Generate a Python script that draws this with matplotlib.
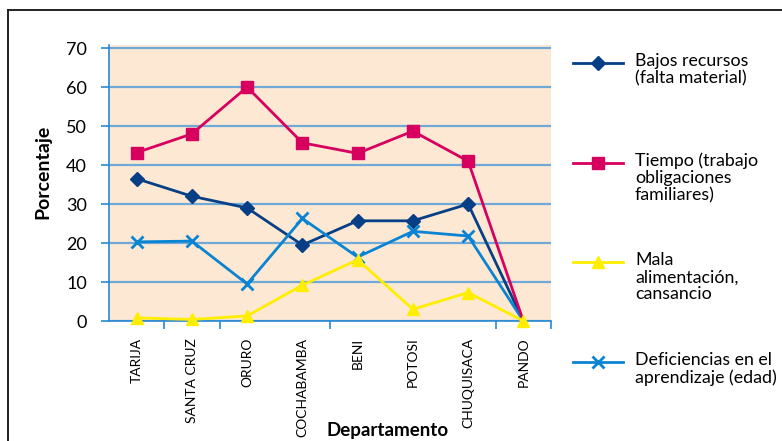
import matplotlib.pyplot as plt
from matplotlib.lines import Line2D

plt.rcParams['font.family'] = ['Lato', 'DejaVu Sans']

departamentos = ["TARIJA", "SANTA CRUZ", "ORURO", "COCHABAMBA",
                 "BENI", "POTOSI", "CHUQUISACA", "PANDO"]

bajos_recursos = [36.5, 32.0, 29.0, 19.5, 25.7, 25.7, 30.0, 0.0]
tiempo = [43.2, 48.0, 60.0, 45.7, 43.0, 48.7, 41.0, 0.0]
mala_alimentacion = [0.8, 0.4, 1.3, 9.2, 15.7, 3.0, 7.3, 0.0]
deficiencias = [20.3, 20.5, 9.5, 26.3, 16.4, 23.0, 21.8, 0.0]

etiquetas = ["Bajos recursos\n(falta material)",
             "Tiempo (trabajo\nobligaciones\nfamiliares)",
             "Mala\nalimentación,\ncansancio",
             "Deficiencias en el\naprendizaje (edad)"]

series = [bajos_recursos, tiempo, mala_alimentacion, deficiencias]
colores = ["#063f86", "#d8005e", "#ffee00", "#0a84d2"]
marcadores = ["D", "s", "^", "x"]
tamanos = [7, 8.5, 8, 9]
capas = [3, 5, 6, 4]

W, H = 782, 441
fig = plt.figure(figsize=(W / 100, H / 100), dpi=100)
ax = fig.add_axes([109 / W, 1 - 321 / H, (551 - 109) / W, (321 - 45) / H])
ax.set_facecolor("#fde9d3")

x = list(range(len(departamentos)))
for vals, c, m, ms, z in zip(series, colores, marcadores, tamanos, capas):
    # only the yellow series shows a marker at the zero point of PANDO
    cada = None if m == "^" else list(range(len(x) - 1))
    ax.plot(x, vals, color=c, lw=2.0, marker=m, markersize=ms,
            markeredgewidth=2 if m == "x" else 1, markeredgecolor=c,
            markevery=cada, clip_on=False, zorder=z)

ax.set_xlim(-0.5, 7.5)
ax.set_ylim(0, 70.8)
ax.set_yticks(range(0, 71, 10))
ax.yaxis.grid(True, color="#6fa9d8", lw=1.6)
ax.set_axisbelow(True)

ax.set_xticks(x)
ax.set_xticklabels(departamentos, rotation=90, fontsize=10)
ax.set_xticks([0.5, 1.5, 3.5, 6.5, 7.5], minor=True)
ax.tick_params(axis="x", which="major", length=0, pad=12)
ax.tick_params(axis="x", which="minor", length=6, color="#2a88d0", width=1.2)
ax.tick_params(axis="y", length=6, color="#2a88d0", width=1.2, pad=10,
               labelsize=13)

for s in ["top", "right"]:
    ax.spines[s].set_visible(False)
for s in ["left", "bottom"]:
    ax.spines[s].set_color("#2a88d0")
    ax.spines[s].set_linewidth(1.2)

fig.text(43 / W, 1 - 172 / H, "Porcentaje", rotation=90, fontsize=14,
         fontweight="bold", ha="center", va="center")
fig.text(388 / W, 1 - 436 / H, "Departamento", fontsize=13.5,
         fontweight="bold", ha="center", va="baseline")

# legend drawn by hand to the right of the plot
for i, (lab, c, m, ms) in enumerate(zip(etiquetas, colores, marcadores, tamanos)):
    yy = 1 - (63 + 99.7 * i) / H
    fig.add_artist(Line2D([573 / W, 623 / W], [yy, yy], color=c, lw=2.0))
    fig.add_artist(Line2D([598 / W], [yy], color=c, marker=m, markersize=ms,
                          markeredgewidth=2 if m == "x" else 1,
                          markeredgecolor=c))
    fig.text(635 / W, yy + 10 / H, lab, fontsize=12.8, va="top", ha="left",
             linespacing=1.08)

# frame around the figure
fig.add_artist(Line2D([8 / W, 8 / W], [0, 1 - 10 / H], color="#222222", lw=1.4))
fig.add_artist(Line2D([8 / W, 1], [1 - 10 / H, 1 - 10 / H], color="#222222", lw=1.4))

fig.savefig("out.png", dpi=100)
